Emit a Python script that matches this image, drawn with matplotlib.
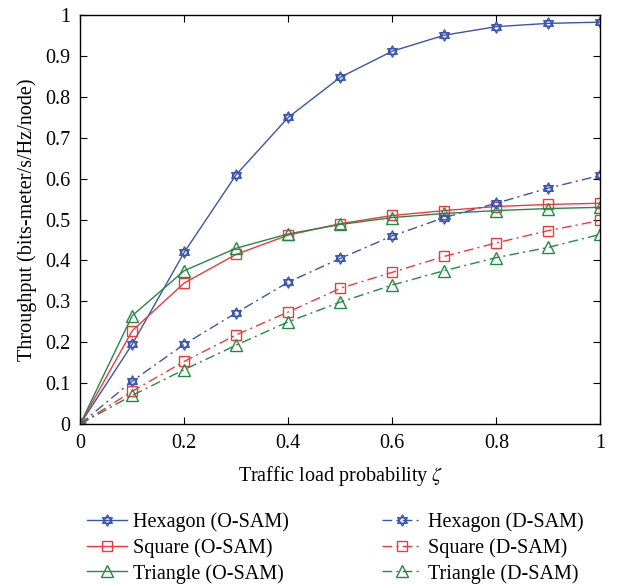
import numpy as np
import matplotlib
matplotlib.use("Agg")
import matplotlib.pyplot as plt
from matplotlib.path import Path

plt.rcParams["font.family"] = "Liberation Serif"
plt.rcParams["mathtext.fontset"] = "stix"

load = [0, 0.1, 0.2, 0.3, 0.4, 0.5, 0.6, 0.7, 0.8, 0.9, 1.0]
hex_o = [0, 0.195, 0.42, 0.61, 0.75, 0.848, 0.912, 0.951, 0.972, 0.980, 0.983]
sq_o = [0, 0.228, 0.345, 0.415, 0.462, 0.490, 0.510, 0.522, 0.532, 0.537, 0.540]
tri_o = [0, 0.265, 0.375, 0.430, 0.465, 0.488, 0.505, 0.515, 0.522, 0.527, 0.530]
hex_d = [0, 0.105, 0.195, 0.272, 0.347, 0.405, 0.460, 0.505, 0.540, 0.577, 0.608]
sq_d = [0, 0.080, 0.153, 0.218, 0.274, 0.332, 0.371, 0.410, 0.443, 0.473, 0.498]
tri_d = [0, 0.070, 0.133, 0.193, 0.250, 0.298, 0.340, 0.375, 0.407, 0.432, 0.464]

# hexagram marker built from two triangles
a = np.deg2rad([90, 210, 330, 90])
b = np.deg2rad([270, 30, 150, 270])
verts = list(zip(np.cos(a), np.sin(a))) + list(zip(np.cos(b), np.sin(b)))
codes = [Path.MOVETO, Path.LINETO, Path.LINETO, Path.CLOSEPOLY] * 2
hexagram = Path(verts, codes)

blue = "#3a55b0"
red = "#f03a3a"
green = "#238a45"
dashdot = (0, (7, 3, 1.5, 3))

fig = plt.figure(figsize=(6.17, 5.84), dpi=100)
ax = fig.add_axes([0.130, 0.274, 0.843, 0.700])

ms = 7
ax.plot(load, hex_o, color=blue, lw=1, marker=hexagram, ms=8, mfc="none", mew=1, label="Hexagon (O-SAM)")
ax.plot(load, sq_o, color=red, lw=1, marker="s", ms=ms, mfc="none", mew=1, label="Square (O-SAM)")
ax.plot(load, tri_o, color=green, lw=1, marker="^", ms=8, mfc="none", mew=1, label="Triangle (O-SAM)")
ax.plot(load, hex_d, color=blue, lw=1, ls=dashdot, marker=hexagram, ms=8, mfc="none", mew=1, label="Hexagon (D-SAM)")
ax.plot(load, sq_d, color=red, lw=1, ls=dashdot, marker="s", ms=ms, mfc="none", mew=1, label="Square (D-SAM)")
ax.plot(load, tri_d, color=green, lw=1, ls=dashdot, marker="^", ms=8, mfc="none", mew=1, label="Triangle (D-SAM)")

ax.set_xlim(0, 1)
ax.set_ylim(0, 1)
ax.set_xticks(np.arange(0, 1.01, 0.2))
ax.set_xticklabels(["0", "0.2", "0.4", "0.6", "0.8", "1"])
ax.set_yticks(np.arange(0, 1.01, 0.1))
ax.set_yticklabels(["0", "0.1", "0.2", "0.3", "0.4", "0.5", "0.6", "0.7", "0.8", "0.9", "1"])
ax.tick_params(direction="in", top=True, right=True, labelsize=14.5, length=5, pad=7)
for s in ax.spines.values():
    s.set_linewidth(1)

ax.set_xlabel("Traffic load probability $\\zeta$", fontsize=14.5, labelpad=8)
ax.set_ylabel("Throughput (bits-meter/s/Hz/node)", fontsize=14.5, labelpad=6)

fig.legend(loc="lower left", bbox_to_anchor=(0.128, -0.013), ncol=2, frameon=False,
           fontsize=14.5, handlelength=2.0, handletextpad=0.3, columnspacing=4.6,
           labelspacing=0.3, borderaxespad=0)

fig.savefig("out.png", dpi=100)
